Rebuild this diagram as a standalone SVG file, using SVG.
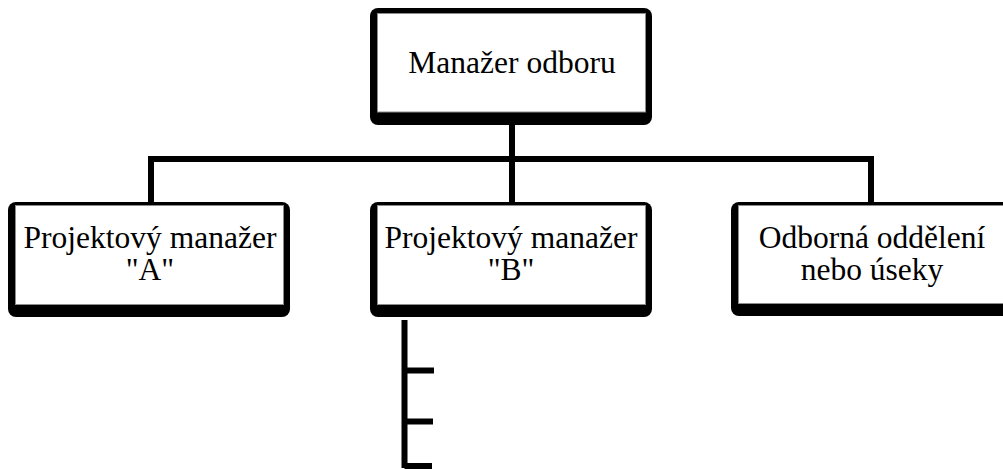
<svg xmlns="http://www.w3.org/2000/svg" width="1003" height="469" viewBox="0 0 1003 469">
  <style>
    .frame { fill: #000; }
    .face { fill: #fff; stroke: #8c8c8c; stroke-width: 1; }
    .label { font-family: "Liberation Serif", "Times New Roman", serif; font-size: 31.5px; fill: #000; text-anchor: middle; }
    .link { fill: none; stroke: #000; stroke-width: 6; stroke-linecap: butt; stroke-linejoin: miter; }
  </style>
  <rect width="1003" height="469" fill="#fff"/>

  <!-- connectors -->
  <g id="connectors">
    <path class="link" d="M512 125 V202"/>
    <path class="link" d="M151 205 V159 H871 V205"/>
    <path class="link" d="M404.5 320 V468"/>
    <path class="link" d="M404.5 370.5 H434"/>
    <path class="link" d="M404.5 421.5 H433"/>
    <path class="link" d="M404.5 466 H432"/>
  </g>

  <!-- head of department -->
  <g id="node-head">
    <rect class="frame" x="370" y="8" width="282" height="117" rx="8"/>
    <rect class="face" x="377.5" y="13.5" width="268" height="98.5"/>
    <text class="label" x="512" y="73">Manažer odboru</text>
  </g>

  <!-- project manager A -->
  <g id="node-pm-a">
    <rect class="frame" x="8" y="202" width="282" height="115" rx="8"/>
    <rect class="face" x="15.5" y="205.5" width="268" height="99"/>
    <text class="label" x="150" y="248">Projektový manažer</text>
    <text class="label" x="150" y="280">"A"</text>
  </g>

  <!-- project manager B -->
  <g id="node-pm-b">
    <rect class="frame" x="370" y="202" width="282" height="115" rx="8"/>
    <rect class="face" x="377.5" y="205.5" width="268" height="99"/>
    <text class="label" x="511" y="248">Projektový manažer</text>
    <text class="label" x="511" y="280">"B"</text>
  </g>

  <!-- specialist departments -->
  <g id="node-departments">
    <rect class="frame" x="731" y="202" width="282" height="114" rx="8"/>
    <rect class="face" x="738.5" y="205.5" width="268" height="98"/>
    <text class="label" x="872" y="248">Odborná oddělení</text>
    <text class="label" x="872" y="280">nebo úseky</text>
  </g>
</svg>
